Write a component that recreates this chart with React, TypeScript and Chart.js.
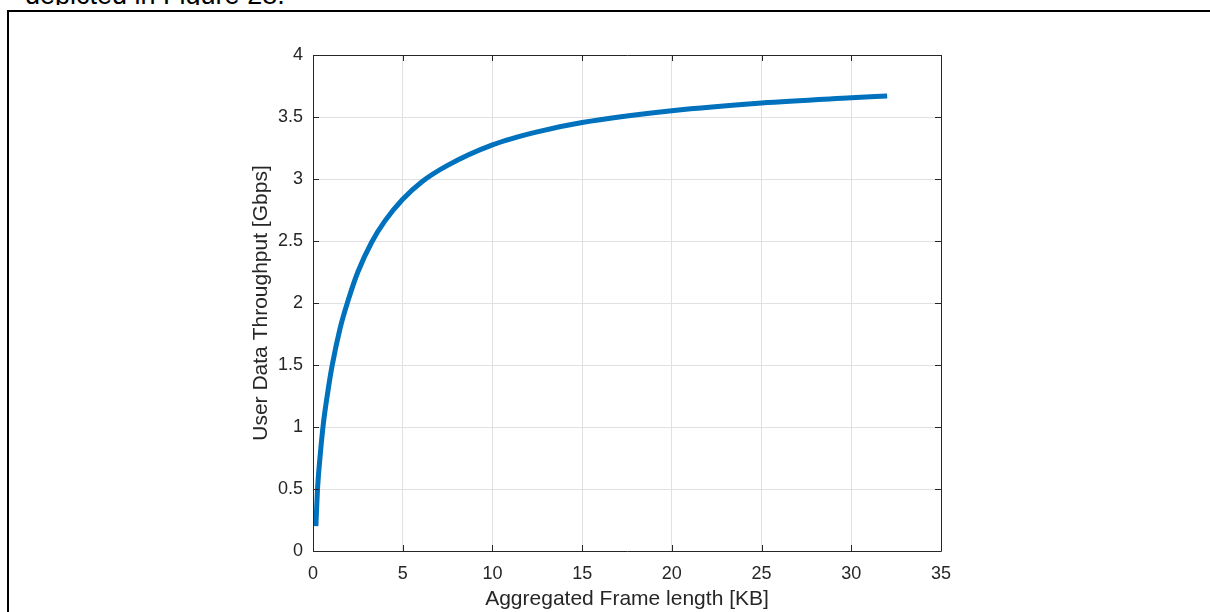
import React, { useEffect, useRef } from "react";
import { Chart, registerables } from "chart.js";

Chart.register(...registerables);

// Data
const frameLengthKB: number[] = [0.16, 0.26, 0.4, 0.58, 0.8, 1.06, 1.5, 2.0, 2.5, 3.27, 4.0, 5.0, 6.09, 7.5, 10, 12.5, 15, 20, 25, 30, 32];
const throughputGbps: number[] = [0.2, 0.52, 0.77, 1.03, 1.26, 1.49, 1.79, 2.04, 2.25, 2.49, 2.66, 2.836, 2.98, 3.11, 3.275, 3.38, 3.455, 3.55, 3.613, 3.655, 3.67];
const xTicks: number[] = [0, 5, 10, 15, 20, 25, 30, 35];
const yTicks: number[] = [0, 0.5, 1, 1.5, 2, 2.5, 3, 3.5, 4];

const xTitle = "Aggregated Frame length [KB]";
const yTitle = "User Data Throughput [Gbps]";
const captionText = "depicted in Figure 28.";

const FONT = "'Liberation Sans', Arial, Helvetica, sans-serif";
const AXIS_COLOR = "#262626";
const GRID_COLOR = "rgb(225,225,225)";
const LINE_COLOR = "#0072BD";

const W = 1210;
const H = 612;

const boxPlugin = {
  id: "matlabBox",
  afterDatasetsDraw(chart: any) {
    const { ctx, chartArea, scales } = chart;
    const { left, right, top, bottom } = chartArea;
    const len = 6;
    ctx.save();
    ctx.strokeStyle = AXIS_COLOR;
    ctx.lineWidth = 1;
    ctx.beginPath();
    ctx.rect(Math.round(left) + 0.5, Math.round(top) + 0.5, Math.round(right - left), Math.round(bottom - top));
    ctx.stroke();
    ctx.beginPath();
    for (const v of xTicks) {
      const px = Math.round(scales.x.getPixelForValue(v)) + 0.5;
      ctx.moveTo(px, bottom);
      ctx.lineTo(px, bottom - len);
      ctx.moveTo(px, top);
      ctx.lineTo(px, top + len);
    }
    for (const v of yTicks) {
      const py = Math.round(scales.y.getPixelForValue(v)) + 0.5;
      ctx.moveTo(left, py);
      ctx.lineTo(left + len, py);
      ctx.moveTo(right, py);
      ctx.lineTo(right - len, py);
    }
    ctx.stroke();
    ctx.restore();
  },
};

export default function App() {
  const canvasRef = useRef<HTMLCanvasElement | null>(null);

  useEffect(() => {
    if (!canvasRef.current) return;
    const points = frameLengthKB.map((x, i) => ({ x, y: throughputGbps[i] }));
    const chart = new Chart(canvasRef.current, {
      type: "line",
      data: {
        datasets: [
          {
            data: points,
            borderColor: LINE_COLOR,
            borderWidth: 5,
            pointRadius: 0,
            fill: false,
            cubicInterpolationMode: "monotone",
            borderCapStyle: "butt",
            borderJoinStyle: "round",
          },
        ],
      },
      options: {
        animation: false,
        responsive: false,
        devicePixelRatio: 1,
        layout: { padding: { left: 0, right: W - 941, top: 55, bottom: 0 } },
        plugins: { legend: { display: false }, tooltip: { enabled: false } },
        scales: {
          x: {
            type: "linear",
            min: 0,
            max: 35,
            afterBuildTicks: (s: any) => {
              s.ticks = xTicks.map((v) => ({ value: v }));
            },
            afterFit: (s: any) => {
              s.height = H - 551;
            },
            grid: { color: GRID_COLOR, lineWidth: 1, drawTicks: false },
            border: { display: false },
            ticks: {
              color: AXIS_COLOR,
              font: { family: FONT, size: 18 },
              padding: 12,
              maxRotation: 0,
              autoSkip: false,
              callback: (v: any) => String(v),
            },
            title: {
              display: true,
              text: xTitle,
              color: AXIS_COLOR,
              font: { family: FONT, size: 21 },
              padding: { top: 0, bottom: 0 },
            },
          },
          y: {
            type: "linear",
            min: 0,
            max: 4,
            afterBuildTicks: (s: any) => {
              s.ticks = yTicks.map((v) => ({ value: v }));
            },
            afterFit: (s: any) => {
              s.width = 313;
            },
            grid: { color: GRID_COLOR, lineWidth: 1, drawTicks: false },
            border: { display: false },
            ticks: {
              color: AXIS_COLOR,
              font: { family: FONT, size: 18 },
              padding: 10,
              autoSkip: false,
              callback: (v: any) => String(v),
            },
            title: {
              display: true,
              text: yTitle,
              color: AXIS_COLOR,
              font: { family: FONT, size: 21 },
              padding: { top: 249, bottom: 0 },
            },
          },
        },
      },
      plugins: [boxPlugin],
    } as any);
    return () => chart.destroy();
  }, []);

  return (
    <div
      style={{
        position: "absolute",
        left: 0,
        top: 0,
        width: W,
        height: H,
        overflow: "hidden",
        background: "#ffffff",
      }}
    >
      <div
        style={{
          position: "absolute",
          left: 0,
          top: 0,
          width: W,
          height: 5,
          overflow: "hidden",
        }}
      >
        <div
          style={{
            position: "absolute",
            left: 25,
            top: -18,
            fontFamily: FONT,
            fontSize: 27,
            lineHeight: "27px",
            whiteSpace: "nowrap",
            color: "#000",
          }}
        >
          {captionText}
        </div>
      </div>
      <div
        style={{
          position: "absolute",
          left: 7,
          top: 10,
          width: W + 50,
          height: H + 50,
          borderLeft: "2px solid #000",
          borderTop: "2px solid #000",
        }}
      />
      <canvas
        ref={canvasRef}
        width={W}
        height={H}
        style={{ position: "absolute", left: 0, top: 0, width: W, height: H }}
      />
    </div>
  );
}
